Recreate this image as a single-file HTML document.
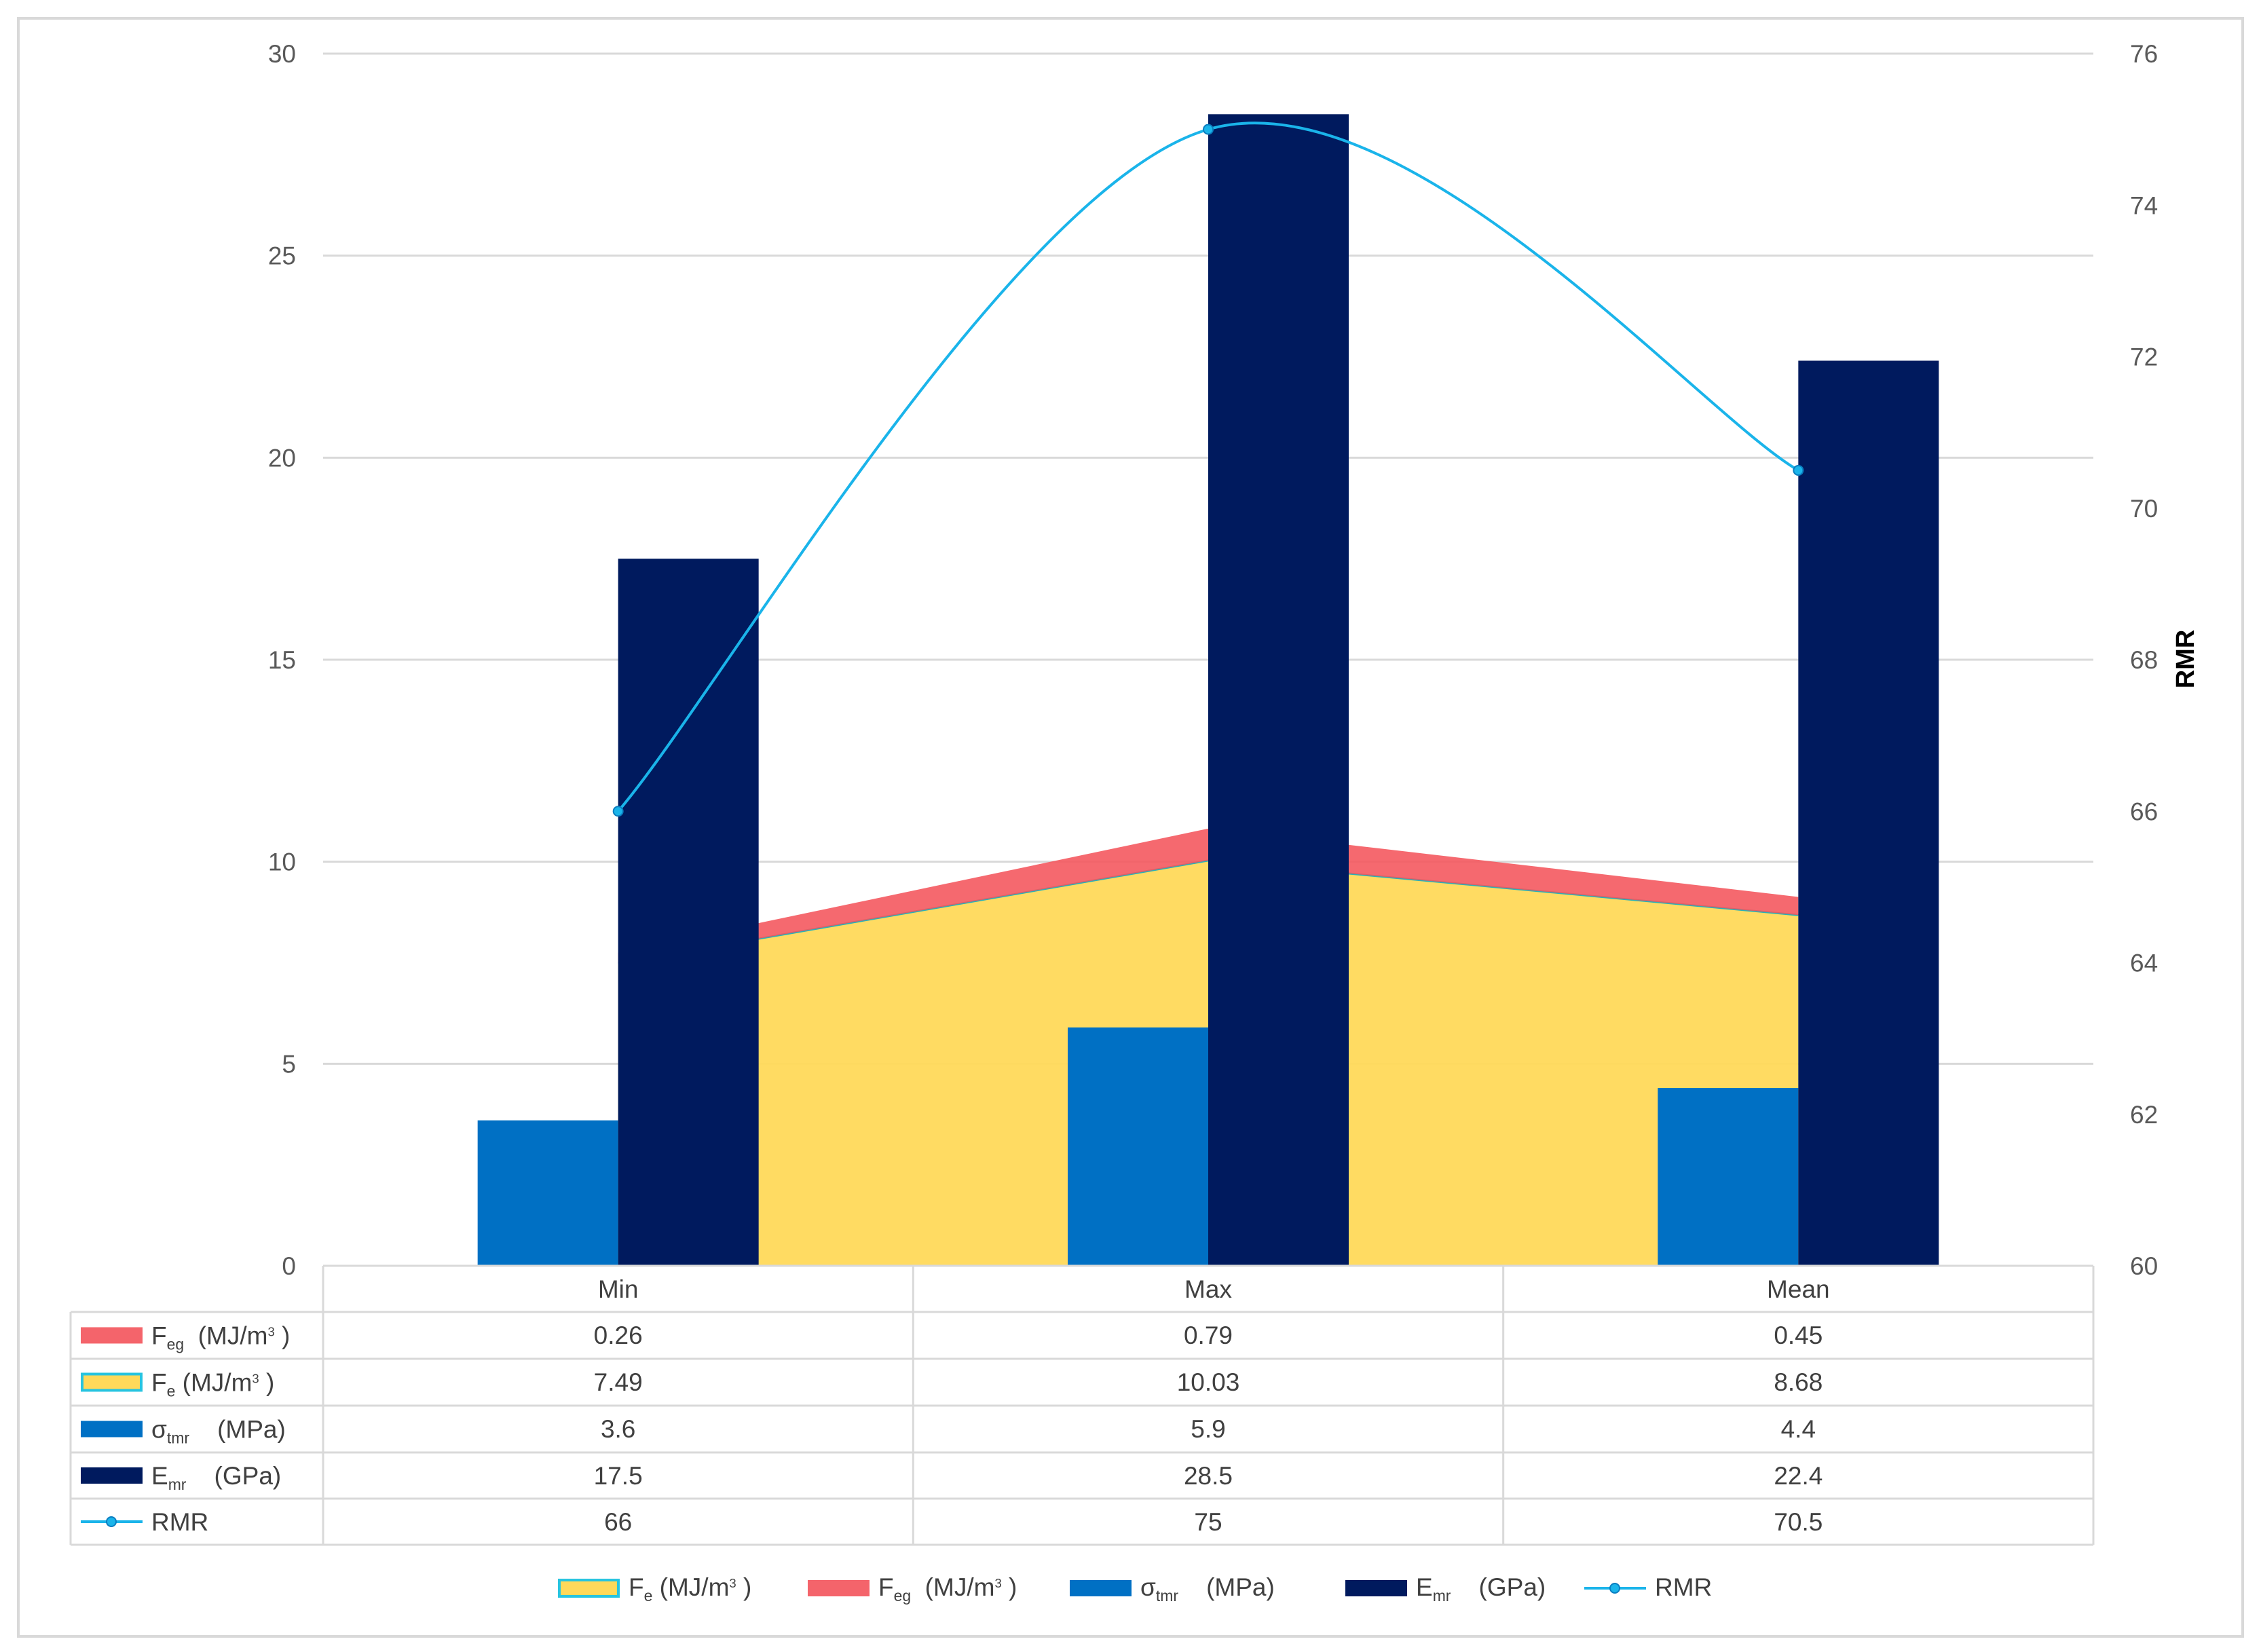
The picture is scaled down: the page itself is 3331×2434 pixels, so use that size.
<!DOCTYPE html>
<html><head><meta charset="utf-8"><style>
html,body{margin:0;padding:0;background:#fff;}
svg{display:block;font-family:"Liberation Sans",sans-serif;}
text,tspan{white-space:pre;}
</style></head><body>
<svg id="chart" width="3331" height="2434" viewBox="0 0 3331 2434" xmlns="http://www.w3.org/2000/svg">
<rect x="27" y="27" width="3277" height="2384" fill="#fff" stroke="#d9d9d9" stroke-width="4"/>
<g id="grid"></g>
<g id="areas"></g>
<g id="bars"></g>
<g id="line"></g>
<g id="axes"></g>
<g id="table"></g>
<g id="legend"></g>
</svg>
<script>
const categories = ["Min", "Max", "Mean"];
const fegValues = [0.26, 0.79, 0.45];
const feValues = [7.49, 10.03, 8.68];
const sigmaValues = [3.6, 5.9, 4.4];
const emrValues = [17.5, 28.5, 22.4];
const rmrValues = [66, 75, 70.5];
const leftTicks = [0, 5, 10, 15, 20, 25, 30];
const rightTicks = [60, 62, 64, 66, 68, 70, 72, 74, 76];

const NS = "http://www.w3.org/2000/svg";
const X0 = 476, X1 = 3084, Y0 = 1865, Y1 = 79;
const bandW = (X1 - X0) / categories.length;
const barW = 207;
function xc(i){ return X0 + bandW * (i + 0.5); }
function yL(v){ return Y0 - (v - 0) / 30 * (Y0 - Y1); }
function yR(v){ return Y0 - (v - 60) / 16 * (Y0 - Y1); }
function mk(tag, attrs, parent, text){
  const e = document.createElementNS(NS, tag);
  for (const k in attrs) e.setAttribute(k, attrs[k]);
  if (text !== undefined) e.textContent = text;
  parent.appendChild(e); return e;
}
const grid = document.getElementById('grid');
const axes = document.getElementById('axes');
leftTicks.forEach(t => {
  const l = mk('line', {x1: X0, x2: X1, y1: yL(t), y2: yL(t), stroke: '#d9d9d9', 'stroke-width': 3}, grid);
  
  
  const tx = mk('text', {x: 436, y: yL(t) + 13, 'text-anchor': 'end', 'font-size': 37, fill: '#595959'}, axes, String(t));
  
  
});
rightTicks.forEach(t => {
  const tx = mk('text', {x: 3138, y: yR(t) + 13, 'font-size': 37, fill: '#595959'}, axes, String(t));
  
  
});
const rt = mk('text', {x: 0, y: 0, transform: 'translate(3232,971) rotate(-90)', 'text-anchor': 'middle', 'font-size': 38, 'font-weight': 'bold', fill: '#000'}, axes, 'RMR');



// areas
const areas = document.getElementById('areas');
let fePts = categories.map((c, i) => xc(i) + ',' + yL(feValues[i]));
let feArea = 'M' + xc(0) + ',' + Y0 + ' L' + fePts.join(' L') + ' L' + xc(categories.length - 1) + ',' + Y0 + 'Z';
const fa = mk('path', {d: feArea, fill: '#ffd95a', 'fill-opacity': 0.95}, areas);


const fl = mk('polyline', {points: fePts.join(' '), fill: 'none', stroke: '#2ab0b8', 'stroke-width': 3}, areas);


let topPts = categories.map((c, i) => xc(i) + ',' + yL(feValues[i] + fegValues[i]));
let fegArea = 'M' + topPts.join(' L') + ' L' + fePts.slice().reverse().join(' L') + 'Z';
const ga = mk('path', {d: fegArea, fill: '#f4545b', 'fill-opacity': 0.88}, areas);



// bars
const bars = document.getElementById('bars');
categories.forEach((c, i) => {
  const s = mk('rect', {x: xc(i) - barW, y: yL(sigmaValues[i]), width: barW, height: Y0 - yL(sigmaValues[i]), fill: '#0070c4'}, bars);
  
  
  const e = mk('rect', {x: xc(i), y: yL(emrValues[i]), width: barW, height: Y0 - yL(emrValues[i]), fill: '#001a5e'}, bars);
  
  
});

// RMR smooth line
const lineG = document.getElementById('line');
const P = categories.map((c, i) => [xc(i), yR(rmrValues[i])]);
let d = 'M' + P[0][0] + ',' + P[0][1];
for (let i = 0; i < P.length - 1; i++) {
  const p0 = P[Math.max(0, i - 1)], p1 = P[i], p2 = P[i + 1], p3 = P[Math.min(P.length - 1, i + 2)];
  const c1 = [p1[0] + (p2[0] - p0[0]) / 6, p1[1] + (p2[1] - p0[1]) / 6];
  const c2 = [p2[0] - (p3[0] - p1[0]) / 6, p2[1] - (p3[1] - p1[1]) / 6];
  d += ' C' + c1 + ' ' + c2 + ' ' + p2;
}
const rl = mk('path', {d: d, fill: 'none', stroke: '#1ab4ea', 'stroke-width': 4}, lineG);


P.forEach((p, i) => {
  const m = mk('circle', {cx: p[0], cy: p[1], r: 7, fill: '#1ab4ea', stroke: '#0a7ec0', 'stroke-width': 2}, lineG);
  
  
});

// data table
const table = document.getElementById('table');
const rowY = [1865, 1933, 2002, 2071, 2140, 2208, 2276];
const TL = 104;
const tc = '#d9d9d9';
function tline(x1, y1, x2, y2){
  const l = mk('line', {x1: x1, y1: y1, x2: x2, y2: y2, stroke: tc, 'stroke-width': 3}, table);
  
  
}
tline(X0, rowY[0], X1, rowY[0]);
for (let r = 1; r < rowY.length; r++) tline(TL, rowY[r], X1, rowY[r]);
tline(TL, rowY[1], TL, rowY[6]);
for (let k = 0; k <= 3; k++) tline(X0 + bandW * k, rowY[0], X0 + bandW * k, rowY[6]);
categories.forEach((c, i) => {
  const t = mk('text', {x: xc(i), y: rowY[0] + 47, 'text-anchor': 'middle', 'font-size': 37, fill: '#404040'}, table, c);
  
  
});
const rowsData = [fegValues, feValues, sigmaValues, emrValues, rmrValues];
rowsData.forEach((arr, r) => {
  arr.forEach((v, i) => {
    const t = mk('text', {x: xc(i), y: rowY[r + 1] + 47, 'text-anchor': 'middle', 'font-size': 37, fill: '#404040'}, table, String(v));
    
    
  });
});
function swatch(g, type, x, y){
  if (type === 'feg') mk('rect', {x: x, y: y - 12, width: 91, height: 24, fill: '#f4646b'}, g);
  if (type === 'fe') mk('rect', {x: x + 2, y: y - 12, width: 87, height: 24, fill: '#ffd95a', stroke: '#27c4e0', 'stroke-width': 4}, g);
  if (type === 'sigma') mk('rect', {x: x, y: y - 12, width: 91, height: 24, fill: '#0070c4'}, g);
  if (type === 'emr') mk('rect', {x: x, y: y - 12, width: 91, height: 24, fill: '#001a5e'}, g);
  if (type === 'rmr') { mk('line', {x1: x, y1: y, x2: x + 91, y2: y, stroke: '#1ab4ea', 'stroke-width': 4}, g); mk('circle', {cx: x + 45, cy: y, r: 7, fill: '#1ab4ea', stroke: '#0a7ec0', 'stroke-width': 2}, g); }
}
function label(g, type, x, y, fs){
  const t = mk('text', {x: x, y: y + 13, 'font-size': fs, fill: '#404040'}, g);
  const sub = (s) => mk('tspan', {'font-size': fs * 0.62, dy: 8}, t, s);
  const up = (s, dy) => mk('tspan', {dy: dy}, t, s);
  if (type === 'feg') { up('F', 0); sub('eg'); up('  (MJ/m', -8); mk('tspan', {'font-size': fs * 0.5, dy: -12}, t, '3'); mk('tspan', {dy: 12}, t, ' )'); }
  if (type === 'fe') { up('F', 0); sub('e'); up(' (MJ/m', -8); mk('tspan', {'font-size': fs * 0.5, dy: -12}, t, '3'); mk('tspan', {dy: 12}, t, ' )'); }
  if (type === 'sigma') { up('σ', 0); sub('tmr'); up('    (MPa)', -8); }
  if (type === 'emr') { up('E', 0); sub('mr'); up('    (GPa)', -8); }
  if (type === 'rmr') { up('RMR', 0); }
  return t;
}
['feg', 'fe', 'sigma', 'emr', 'rmr'].forEach((type, r) => {
  const g = mk('g', {}, table);
  
  
  const cy = (rowY[r + 1] + rowY[r + 2]) / 2;
  swatch(g, type, 119, cy);
  label(g, type, 223, cy, 37);
});

// legend
const legend = document.getElementById('legend');
const legendTypes = ['fe', 'feg', 'sigma', 'emr', 'rmr'];
const legendX = [822, 1190, 1576, 1982, 2334];
legendTypes.forEach((type, k) => {
  const g = mk('g', {}, legend);
  
  
  swatch(g, type, legendX[k], 2340);
  label(g, type, legendX[k] + 104, 2338, 37);
});
</script>
</body></html>
